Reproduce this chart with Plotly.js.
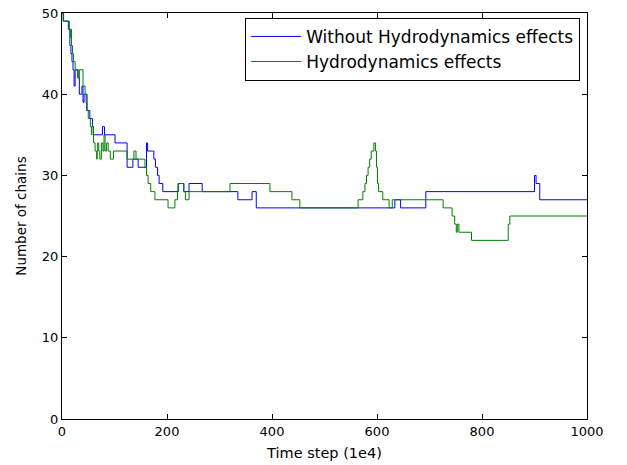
<!DOCTYPE html>
<html>
<head>
<meta charset="utf-8">
<script src="https://cdn.plot.ly/plotly-3.0.1.min.js"></script>
<style>html,body{margin:0;padding:0;background:#fff;}#chart{width:627px;height:465px;}</style>
</head>
<body>
<div id="chart"></div>
<script>
// Without Hydrodynamics effects (step series: value holds from x until next x)
const blueX = [0,3,12,15,17,19,21,23,25,30,33,38,40,42,46,47,53,58,60,77,81,101,124,135,145,161,163,175,178,182,185,192,221,232,242,267,335,362,370,634,645,693,900,903,910,1000];
const blueY = [50,49,48,46,45,44,43,41,43,42,40,41,39,40,39,38,37,36,35,36,35,34,31,32,31,34,33,32,31,30,29,28,29,28,29,28,27,28,26,27,26,28,30,29,27,27];
// Hydrodynamics effects
const greenX = [0,2,14,16,17,18,20,22,25,32,33,40,44,48,50,54,56,57,60,63,66,67,68,70,72,75,78,80,82,85,88,92,98,124,137,141,158,161,164,169,177,202,215,220,222,232,235,242,320,396,438,453,564,573,577,580,583,586,589,594,597,599,601,603,611,623,629,726,743,748,751,753,756,780,850,853,857,1000];
const greenY = [50,49,48,47,48,46,45,44,43,42,43,41,40,38,37,36,35,36,34,33,32,33,34,33,32,34,33,35,33,34,33,32,33,32,33,32,31,30,29,28,27,26,27,28,29,28,27,28,29,28,27,26,27,28,29,30,31,32,33,34,33,31,29,28,27,26,27,26,25,24,23,24,23,22,24,25,25,25];
const xTicks = [0,200,400,600,800,1000];
const yTicks = [0,10,20,30,40,50];

const traces = [
  {x: blueX, y: blueY, mode: 'lines', line: {shape: 'hv', color: '#0000ff', width: 1}, name: 'Without Hydrodynamics effects'},
  {x: greenX, y: greenY, mode: 'lines', line: {shape: 'hv', color: '#008000', width: 1}, name: 'Hydrodynamics effects'}
];
const axisCommon = {
  showgrid: false, zeroline: false, showline: true, linecolor: '#000', linewidth: 1, mirror: 'ticks',
  ticks: 'inside', ticklen: 5, tickcolor: '#000', tickwidth: 1,
  tickfont: {family: 'DejaVu Sans', size: 13, color: '#000'}
};
const layout = {
  width: 627, height: 465,
  margin: {l: 62, r: 40, t: 13, b: 46},
  paper_bgcolor: '#fff', plot_bgcolor: '#fff',
  font: {family: 'DejaVu Sans', color: '#000'},
  xaxis: Object.assign({}, axisCommon, {range: [0, 1000], tickvals: xTicks, ticktext: xTicks.map(String),
    title: {text: 'Time step (1e4)', font: {family: 'DejaVu Sans', size: 14.5, color: '#000'}, standoff: 10}}),
  yaxis: Object.assign({}, axisCommon, {range: [0, 50], tickvals: yTicks, ticktext: yTicks.map(String),
    title: {text: 'Number of chains', font: {family: 'DejaVu Sans', size: 13.5, color: '#000'}, standoff: 12}}),
  showlegend: true,
  legend: {x: 0.987, y: 0.988, xanchor: 'right', yanchor: 'top', bordercolor: '#000', borderwidth: 1,
    bgcolor: '#fff', font: {family: 'DejaVu Sans', size: 17, color: '#000'}, tracegroupgap: 0, itemwidth: 50}
};
Plotly.newPlot('chart', traces, layout, {displayModeBar: false, staticPlot: true});
</script>
</body>
</html>
